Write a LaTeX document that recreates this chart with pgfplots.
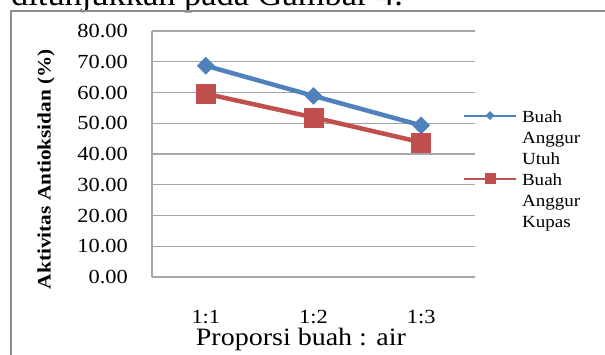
\documentclass[border=0pt]{standalone}
\usepackage{fontspec}
\setmainfont{Liberation Serif}[FakeStretch=1.12]
\newfontfamily\bodyfont{Liberation Serif}
\usepackage{pgfplots}
\pgfplotsset{compat=1.18}
\definecolor{serBlue}{HTML}{4F81BD}
\definecolor{serRed}{HTML}{C0504D}
\definecolor{gridgray}{HTML}{A6A6A6}
\definecolor{framegray}{HTML}{8C8C8C}
\begin{document}
\begin{tikzpicture}
\useasboundingbox (0pt,0pt) rectangle (605pt,-355pt);
\begin{scope}
\clip (0pt,0pt) rectangle (605pt,-355pt);
\fill[white] (0pt,0pt) rectangle (605pt,-355pt);
\node[anchor=base west, inner sep=0pt, font=\bodyfont\fontsize{34.4}{40}\selectfont] at (11pt,-5.5pt) {ditunjukkan pada Gambar 4.};
\draw[framegray, line width=2pt] (11pt,-360pt) -- (11pt,-11pt) -- (610pt,-11pt);
\end{scope}
\begin{axis}[
  at={(152pt,-277pt)}, anchor=south west,
  scale only axis, width=323pt, height=246pt,
  xmin=-0.5, xmax=2.5, ymin=0, ymax=80,
  xtick={0,1,2}, xticklabels={1:1,1:2,1:3},
  ytick={0,10,...,80},
  ymajorgrids, grid style={draw=gridgray, line width=1.2pt},
  axis x line=bottom, axis y line=left,
  axis line style={-, draw=gridgray, line width=1.2pt},
  major tick length=0pt,
  tick style={draw=none},
  yticklabel style={anchor=east, inner sep=0pt, xshift=-24pt,
    font=\fontsize{20}{24}\selectfont,
    /pgf/number format/.cd, fixed, fixed zerofill, precision=2, assume math mode=true},
  xticklabel style={anchor=center, inner sep=0pt, yshift=-40pt,
    font=\fontsize{20}{24}\selectfont},
  ylabel={Aktivitas Antioksidan (\%)},
  ylabel style={at={(axis description cs:-0.328,0.439)}, anchor=center, inner sep=0pt,
    font=\fontsize{19}{22}\selectfont\bfseries},
  xlabel={Proporsi buah : air},
  xlabel style={at={(axis description cs:0.461,-0.256)}, anchor=center, inner sep=0pt,
    font=\fontsize{25}{30}\selectfont},
  legend style={at={(axis description cs:0.963,0.691)}, anchor=north west,
    draw=none, fill=none, inner sep=0pt, outer sep=0pt, row sep=0pt, column sep=5pt,
    font=\fontsize{17}{21}\selectfont,
    nodes={inner sep=0pt, text height=15pt, text depth=6pt}},
  legend cell align=left,
  legend image code/.code={\draw[#1, mark repeat=2, mark phase=2, yshift=2pt] plot coordinates {(0pt,0pt) (26pt,0pt) (52pt,0pt)};},
]
\addplot[serBlue, line width=4.5pt, mark=square*, mark size=6pt,
  mark options={rotate=45, solid, fill=serBlue, draw=serBlue, line width=0.5pt}, forget plot]
  coordinates {(0,68.7) (1,58.9) (2,49.3)};
\addplot[serRed, line width=4.5pt, mark=square*, mark size=9.5pt,
  mark options={solid, fill=serRed, draw=serRed, line width=0.5pt}, forget plot]
  coordinates {(0,59.6) (1,51.9) (2,43.8)};
\addlegendimage{serBlue, line width=2pt, mark=square*, mark size=2.9pt, mark options={rotate=45, fill=serBlue, draw=serBlue, line width=0.3pt}}
\addlegendentry{Buah}
\addlegendimage{empty legend}
\addlegendentry{Anggur}
\addlegendimage{empty legend}
\addlegendentry{Utuh}
\addlegendimage{serRed, line width=2pt, mark=square*, mark size=5pt, mark options={fill=serRed, draw=serRed, line width=0.3pt}}
\addlegendentry{Buah}
\addlegendimage{empty legend}
\addlegendentry{Anggur}
\addlegendimage{empty legend}
\addlegendentry{Kupas}
\end{axis}
\end{tikzpicture}
\end{document}
